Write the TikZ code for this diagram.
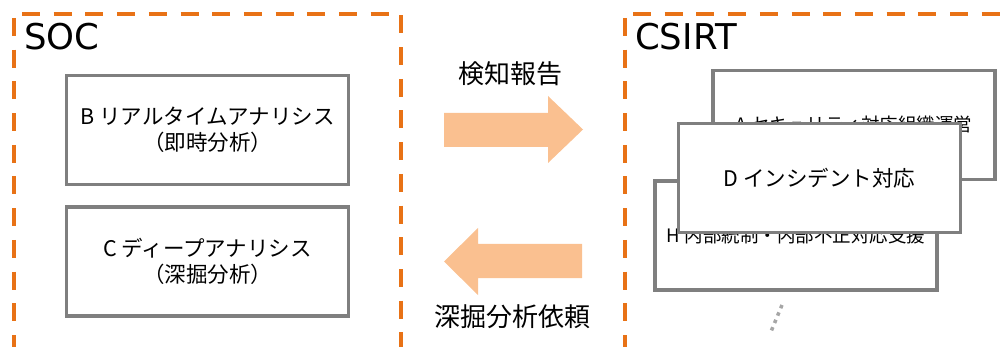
\documentclass[tikz,border=0pt]{standalone}
\usepackage{fontspec}
\setmainfont{Noto Sans CJK JP}
\newfontfamily\latinfont{DejaVu Sans}

\definecolor{teamorange}{RGB}{232,114,22}
\definecolor{flowpeach}{RGB}{250,192,144}
\definecolor{taskgray}{RGB}{127,127,127}
\definecolor{moregray}{RGB}{166,166,166}

\begin{document}
\begin{tikzpicture}[x=1pt, y=-1pt]
    % Define styles
    \tikzset{
        team/.style={
            draw=teamorange,
            line width=4pt,
            dash pattern=on 18pt off 13.7pt
        },
        teamlabel/.style={
            anchor=base west,
            inner sep=0pt,
            font=\latinfont\fontsize{35.5}{40}\selectfont
        },
        task/.style={
            draw=taskgray,
            fill=white,
            line width=3.5pt,
            minimum width=282pt,
            minimum height=109pt,
            inner sep=0pt,
            align=center,
            font=\fontsize{21.5}{26}\selectfont
        },
        subtask/.style={
            task,
            font=\fontsize{18.5}{22}\selectfont
        },
        flow/.style={
            fill=flowpeach
        },
        flowlabel/.style={
            font=\fontsize{26}{30}\selectfont
        }
    }

    \useasboundingbox (0,0) rectangle (1003,347);
    \clip (0,0) rectangle (1003,347);

    % SOC side
    \draw[team, dash phase=27.7pt] (14,14) -- (14,400);
    \draw[team, dash phase=23.7pt] (14,14) -- (401,14) -- (401,400);
    \node[teamlabel] (soc) at (24,50) {SOC};

    \node[task] (realtime) at (207.5,130) {B リアルタイムアナリシス\\（即時分析）};
    \node[task] (deep) at (207.5,261.5) {C ディープアナリシス\\（深掘分析）};

    % CSIRT side
    \draw[team, dash phase=27.7pt] (625,14) -- (625,400);
    \draw[team, dash phase=23.7pt] (625,14) -- (1030,14);
    \node[teamlabel] (csirt) at (635,50) {CSIRT};

    \node[subtask] (org) at (854,125) {A セキュリティ対応組織運営};
    \node[subtask] (internal) at (796,235.5) {H 内部統制・内部不正対応支援};
    \node[task] (incident) at (819.5,178) {D インシデント対応};

    % More services
    \coordinate (more top) at (782,305);
    \coordinate (more end) at (770,334);
    \draw[moregray, line width=3.5pt, dash pattern=on 3.5pt off 4.5pt] (more top) -- (more end);

    % Report and request arrows
    \fill[flow] (444,113) -- (548,113) -- (548,96) -- (583,129.5) -- (548,163) -- (548,147) -- (444,147) -- cycle;
    \fill[flow] (582,244) -- (478,244) -- (478,228) -- (444,261.5) -- (478,295) -- (478,278) -- (582,278) -- cycle;
    \node[flowlabel] (report) at (510,74) {検知報告};
    \node[flowlabel] (request) at (512,317) {深掘分析依頼};

\end{tikzpicture}
\end{document}
